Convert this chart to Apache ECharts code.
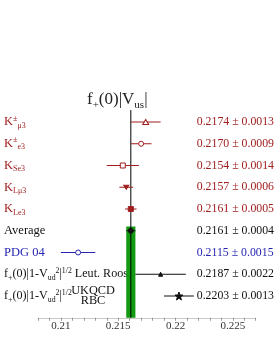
<!DOCTYPE html>
<html>
<head>
<meta charset="utf-8">
<script src="https://cdn.jsdelivr.net/npm/echarts@6/dist/echarts.min.js"></script>
<style>html,body{margin:0;padding:0;background:#fff;}#c{width:277px;height:358px;}</style>
</head>
<body>
<div id="c"></div>
<script>
// ---- data ----
const rowNames = ['Kpm_mu3','Kpm_e3','KS_e3','KL_mu3','KL_e3','Average','PDG 04','Leut. Roos','UKQCD RBC'];
const centralValues = [0.2174, 0.2170, 0.2154, 0.2157, 0.2161, 0.2161, 0.2115, 0.2187, 0.2203];
const errorValues   = [0.0013, 0.0009, 0.0014, 0.0006, 0.0005, 0.0004, 0.0015, 0.0022, 0.0013];
const valueLabels = ['0.2174 ± 0.0013','0.2170 ± 0.0009','0.2154 ± 0.0014','0.2157 ± 0.0006','0.2161 ± 0.0005','0.2161 ± 0.0004','0.2115 ± 0.0015','0.2187 ± 0.0022','0.2203 ± 0.0013'];
const tickValues = [0.21, 0.215, 0.22, 0.225];
const tickLabels = ['0.21', '0.215', '0.22', '0.225'];
const averageValue = 0.2161;
const averageError = 0.0004;

// ---- styling ----
const RED = '#a01e1e', BLUE = '#2626b0', BLACK = '#111';
const rowColors = [RED, RED, RED, RED, RED, BLACK, BLUE, BLACK, BLACK];
const FONT = '"Liberation Serif", "DejaVu Serif", serif';

const F = (size, color, va, lh) => ({fontFamily: FONT, fontSize: size, color: color, verticalAlign: va || 'middle', lineHeight: lh || 15});
const rich = {
  rm: F(12.5, RED), rsup: F(8, RED, 'top', 9), rsub: F(8, RED, 'bottom', 9),
  km: F(12.5, BLACK), ksup: F(8, BLACK, 'top', 9), ksub: F(8, BLACK, 'bottom', 9),
  fm: F(12.1, BLACK), fsup: F(7.8, BLACK, 'top', 9), fsub: F(7.8, BLACK, 'bottom', 9),
  bm: F(12.5, BLUE)
};
const fLead = '{fm|f}{fsub|+}{fm|(0)|1-V}{fsub|ud}{fsup|2}{fm||}{fsup|1/2}';
const leftLabels = [
  '{rm|K}{rsup|±}{rsub|μ3}',
  '{rm|K}{rsup|±}{rsub|e3}',
  '{rm|K}{rsub|Se3}',
  '{rm|K}{rsub|Lμ3}',
  '{rm|K}{rsub|Le3}',
  '{km|Average}',
  '{bm|PDG 04}',
  fLead + '{fm| Leut. Roos}',
  fLead
];

const star = 'path://M0,-10 L2.35,-3.24 L9.51,-3.09 L3.8,1.24 L5.88,8.09 L0,4 L-5.88,8.09 L-3.8,1.24 L-9.51,-3.09 L-2.35,-3.24 Z';
const markerDefs = [
  {symbol: 'triangle', size: [6, 5], open: true},
  {symbol: 'circle', size: 5, open: true},
  {symbol: 'rect', size: 5, open: true},
  {symbol: 'triangle', size: [5, 4], open: false, rotate: 180},
  {symbol: 'rect', size: 5, open: false},
  {symbol: 'circle', size: 5, open: false},
  {symbol: 'circle', size: 5, open: true},
  {symbol: 'triangle', size: 4, open: false},
  {symbol: star, size: 8, open: false}
];

const rows = centralValues.map((v, i) => [v, i + 1, errorValues[i]]);
const allTicks = [];
for (let k = 208; k <= 227; k++) allTicks.push(k / 1000);

const chart = echarts.init(document.getElementById('c'), null, {renderer: 'canvas'});
chart.setOption({
  animation: false,
  backgroundColor: '#fff',
  title: {
    text: '{m|f}{s|+}{m|(0)|V}{s|us}{m||}',
    left: 82, top: 84,
    textStyle: {
      fontWeight: 'normal',
      rich: {
        m: {fontFamily: FONT, fontSize: 17, fontWeight: 'normal', color: '#222', lineHeight: 22},
        s: {fontFamily: FONT, fontSize: 11, fontWeight: 'normal', color: '#222', verticalAlign: 'bottom', lineHeight: 14}
      }
    }
  },
  grid: {left: 38, right: 20, top: 100.25, bottom: 40.25},
  xAxis: {
    type: 'value', min: 0.208, max: 0.227, position: 'bottom',
    axisLine: {show: true, onZero: false, lineStyle: {color: '#c8c8c8', width: 1}},
    axisTick: {show: true, customValues: allTicks, length: 3, lineStyle: {color: '#999'}},
    axisLabel: {customValues: tickValues, margin: 3, fontFamily: FONT, fontSize: 11, color: '#333',
      formatter: v => tickLabels[tickValues.findIndex(t => Math.abs(t - v) < 1e-9)] || ''},
    splitLine: {show: false}
  },
  yAxis: [{
    type: 'value', min: 0, max: 10, interval: 1, inverse: true,
    axisLine: {show: false}, axisTick: {show: false}, splitLine: {show: false},
    axisLabel: {align: 'left', margin: 34, formatter: v => (v >= 1 && v <= 9) ? leftLabels[v - 1] : '', rich: rich}
  }, {
    type: 'value', min: 0, max: 10, interval: 1, inverse: true, position: 'right',
    axisLine: {show: false}, axisTick: {show: false}, splitLine: {show: false},
    axisLabel: {align: 'left', margin: -59, fontFamily: FONT, fontSize: 11.8,
      formatter: v => (v >= 1 && v <= 9) ? '{c' + (v - 1) + '|' + valueLabels[v - 1] + '}' : '',
      rich: Object.fromEntries(rowColors.map((c, i) => ['c' + i, {color: c, fontFamily: FONT, fontSize: 11.8}]))}
  }, {
    type: 'value', min: 0, max: 10, interval: 1, inverse: true, position: 'left', offset: 0,
    axisLine: {show: false}, axisTick: {show: false}, splitLine: {show: false},
    axisLabel: {align: 'center', margin: -55, fontFamily: FONT, fontSize: 12.3, color: BLACK, lineHeight: 10,
      padding: [0, 0, 4, 0],
      formatter: v => v === 9 ? 'UKQCD\nRBC' : ''}
  }],
  series: [
    {
      type: 'custom', xAxisIndex: 0, yAxisIndex: 0, z: 1,
      data: [[averageValue, averageError, 5.8, 10]],
      renderItem: (params, api) => {
        const c = api.value(0), e = api.value(1);
        const p1 = api.coord([c - e, api.value(2)]);
        const p2 = api.coord([c + e, api.value(3)]);
        return {type: 'rect', shape: {x: p1[0], y: p1[1], width: p2[0] - p1[0], height: p2[1] - p1[1]}, style: {fill: '#129a12'}};
      }
    },
    {
      type: 'line', xAxisIndex: 0, yAxisIndex: 0, z: 2, symbol: 'none',
      data: [[averageValue, 0.45], [averageValue, 10]],
      lineStyle: {color: '#000', width: 1}
    },
    {
      type: 'custom', xAxisIndex: 0, yAxisIndex: 0, z: 3,
      data: rows,
      renderItem: (params, api) => {
        const c = api.value(0), r = api.value(1), e = api.value(2);
        const p1 = api.coord([c - e, r]);
        const p2 = api.coord([c + e, r]);
        return {type: 'line', shape: {x1: p1[0], y1: p1[1], x2: p2[0], y2: p2[1]}, style: {stroke: rowColors[params.dataIndex], lineWidth: 1}};
      }
    },
    {
      type: 'scatter', xAxisIndex: 0, yAxisIndex: 0, z: 4,
      data: rows.map((r, i) => {
        const m = markerDefs[i];
        return {
          value: [r[0], r[1]], symbol: m.symbol, symbolSize: m.size, symbolRotate: m.rotate || 0,
          itemStyle: {color: m.open ? '#fff' : rowColors[i], borderColor: rowColors[i], borderWidth: 1, opacity: 1}
        };
      })
    }
  ]
});
</script>
</body>
</html>
